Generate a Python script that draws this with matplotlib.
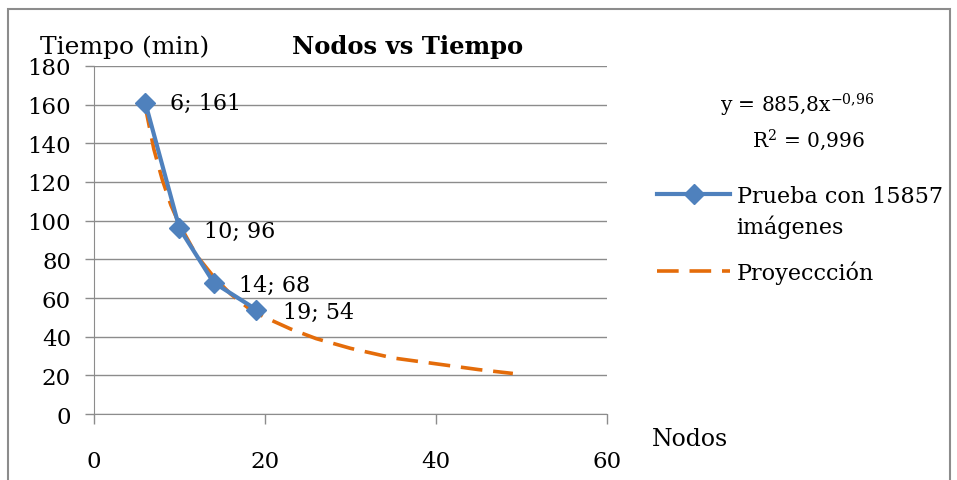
import matplotlib.pyplot as plt
from matplotlib.patches import Rectangle
from matplotlib.lines import Line2D

# Datos de la prueba
nodos = [6, 10, 14, 19]
tiempo = [161, 96, 68, 54]
etiquetas = ['6; 161', '10; 96', '14; 68', '19; 54']

# Curva de proyección
proy_x = [6, 7, 8, 9, 10, 12, 14, 16, 18, 20, 23, 26, 30, 35, 40, 45, 49]
proy_y = [159, 137, 121, 108, 98, 82, 71, 62, 55, 50, 44, 39, 34, 29, 26, 23, 21]

y_ticks = [0, 20, 40, 60, 80, 100, 120, 140, 160, 180]
x_ticks = [0, 20, 40, 60]

plt.rcParams['font.family'] = ['DejaVu Serif']
plt.rcParams['mathtext.fontset'] = 'custom'
plt.rcParams['mathtext.rm'] = 'DejaVu Serif'

azul = '#4F81BD'
naranja = '#E46C0A'
gris = '#8C8C8C'

fig = plt.figure(figsize=(9.57, 4.81), dpi=100)
ax = fig.add_axes([0.0982, 0.137, 0.536, 0.724])

# Borde del área del gráfico
fig.patches.append(Rectangle((8 / 957, -0.05), 942 / 957, 1.05 - 10 / 481,
                             transform=fig.transFigure, fill=False,
                             edgecolor=gris, linewidth=1.5))

guion = (0, (6, 3))
ax.plot(proy_x, proy_y, color=naranja, linewidth=2.6, linestyle=guion, zorder=3)
ax.plot(nodos, tiempo, color=azul, linewidth=3, marker='D', markersize=10,
        zorder=4)

offsets = [(18, 0), (18, -2), (18, -2), (19, -2)]
for x, y, t, off in zip(nodos, tiempo, etiquetas, offsets):
    ax.annotate(t, (x, y), xytext=off, textcoords='offset points',
                ha='left', va='center', fontsize=16)

ax.set_xlim(0, 60)
ax.set_ylim(0, 180)
ax.set_xticks(x_ticks)
ax.set_yticks(y_ticks)
ax.grid(axis='y', color=gris, linewidth=1)
ax.set_axisbelow(True)
for s in ['top', 'right']:
    ax.spines[s].set_visible(False)
ax.spines['left'].set_color(gris)
ax.spines['bottom'].set_color(gris)
ax.tick_params(axis='both', colors=gris, width=1, labelsize=16.5,
               labelcolor='black')
ax.tick_params(axis='x', length=7, pad=19)
ax.tick_params(axis='y', length=6.5, pad=10)

fig.text(40 / 957, 1 - 47 / 481, 'Tiempo (min)', fontsize=18, ha='left', va='center')
fig.text(408 / 957, 1 - 47 / 481, 'Nodos vs Tiempo', fontsize=17.5, fontweight='bold',
         ha='center', va='center')
fig.text(652 / 957, 1 - 440 / 481, 'Nodos', fontsize=17, ha='left', va='center')

fig.text(797 / 957, 1 - 105 / 481, r'y = 885,8x$^{\mathregular{-0{,}96}}$', fontsize=14.5,
         ha='center', va='center')
fig.text(808 / 957, 1 - 140 / 481, r'R$^{\mathregular{2}}$ = 0,996', fontsize=14.5,
         ha='center', va='center')

handles = [Line2D([], [], color=azul, linewidth=3, marker='D', markersize=10),
           Line2D([], [], color=naranja, linewidth=2.6, linestyle=guion)]
leg = ax.legend(handles, ['Prueba con 15857', 'Proyeccción'],
                loc='upper left', bbox_to_anchor=(637 / 957, 1 - 166 / 481),
                bbox_transform=fig.transFigure, frameon=False, fontsize=16,
                handlelength=3.3, handletextpad=0.3, labelspacing=2.4)
fig.text(736 / 957, 1 - 227 / 481, 'imágenes', fontsize=16, ha='left', va='center')

fig.savefig('out.png', dpi=100)
